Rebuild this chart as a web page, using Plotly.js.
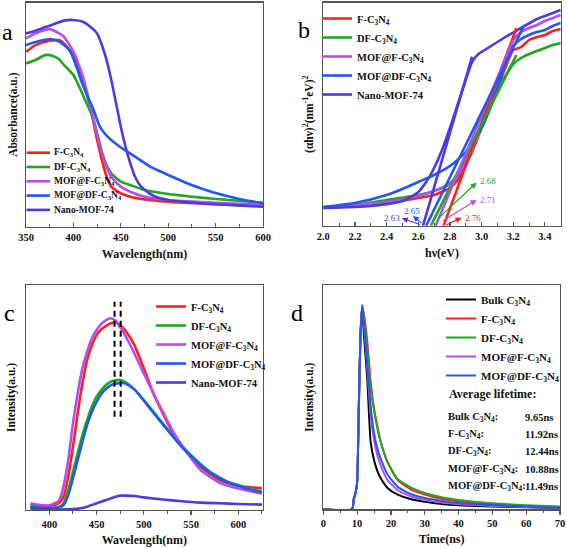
<!DOCTYPE html>
<html><head><meta charset="utf-8">
<script src="https://cdn.plot.ly/plotly-3.0.1.min.js"></script>
<style>html,body{margin:0;padding:0;background:#fff}#chart{width:567px;height:548px}</style>
</head><body><div id="chart"></div>
<script>
// ---------------- DATA ----------------
// Series names (a, b, c share the first five)
const names = ['F-C<sub>3</sub>N<sub>4</sub>', 'DF-C<sub>3</sub>N<sub>4</sub>', 'MOF@F-C<sub>3</sub>N<sub>4</sub>', 'MOF@DF-C<sub>3</sub>N<sub>4</sub>', 'Nano-MOF-74'];
const colors = ['#ff1f1f', '#1ea81e', '#b150ec', '#2358ee', '#4a3ce0'];

// Panel a: UV-vis absorbance (a.u.), wavelength nm
const absF_x = [350,360,370,380,385,390,400,410,415,420,425,430,435,440,450,460,475,500,550,600];
const absF_y = [0.781,0.811,0.826,0.833,0.833,0.818,0.766,0.655,0.580,0.491,0.387,0.298,0.223,0.179,0.149,0.134,0.122,0.112,0.101,0.092];
const absDF_x = [350,360,370,375,380,385,390,400,410,420,425,430,435,440,450,460,475,500,525,550,600];
const absDF_y = [0.729,0.744,0.766,0.766,0.759,0.747,0.722,0.677,0.588,0.491,0.417,0.335,0.275,0.238,0.201,0.186,0.164,0.146,0.134,0.124,0.107];
const absMF_x = [350,360,370,375,385,390,400,410,420,430,440,450,460,475,500,550,600];
const absMF_y = [0.841,0.863,0.878,0.882,0.863,0.848,0.781,0.670,0.506,0.327,0.223,0.179,0.156,0.134,0.119,0.107,0.097];
const absMDF_x = [350,365,375,385,395,400,405,410,415,420,428,438,449,465,481,500,516,535,551,575,600];
const absMDF_y = [0.811,0.830,0.838,0.826,0.792,0.751,0.692,0.632,0.580,0.536,0.446,0.394,0.357,0.313,0.268,0.231,0.201,0.171,0.149,0.124,0.104];
const absNano_x = [350,360,370,380,390,400,410,420,425,430,435,440,445,450,455,460,465,470,480,490,500,520,550,600];
const absNano_y = [0.863,0.875,0.890,0.905,0.920,0.923,0.915,0.885,0.863,0.811,0.744,0.655,0.551,0.446,0.357,0.283,0.223,0.186,0.149,0.129,0.119,0.109,0.100,0.089];

// Panel b: Tauc plot (αhν)^2 vs hν (eV)
const taucF_x = [2.0,2.2,2.4,2.6,2.7,2.8,2.85,2.9,2.95,3.0,3.05,3.1,3.15,3.2,3.25,3.3,3.35,3.4,3.45,3.5];
const taucF_y = [0.177,0.197,0.227,0.277,0.307,0.377,0.457,0.607,0.777,0.977,1.177,1.377,1.577,1.757,1.787,1.857,1.887,1.907,1.947,1.967];
const taucDF_x = [2.0,2.2,2.4,2.6,2.7,2.8,2.85,2.9,2.95,3.0,3.05,3.1,3.15,3.2,3.25,3.3,3.35,3.4,3.45,3.5];
const taucDF_y = [0.187,0.207,0.257,0.307,0.347,0.417,0.497,0.637,0.807,1.007,1.187,1.357,1.497,1.617,1.677,1.717,1.747,1.777,1.807,1.827];
const taucMF_x = [2.0,2.4,2.6,2.7,2.8,2.85,2.9,2.95,3.0,3.05,3.1,3.15,3.2,3.25,3.3,3.35,3.4,3.45,3.5];
const taucMF_y = [0.177,0.237,0.297,0.347,0.427,0.507,0.637,0.797,0.987,1.207,1.457,1.677,1.857,1.937,1.977,2.007,2.047,2.077,2.107];
const taucMDF_x = [2.0,2.2,2.4,2.5,2.6,2.7,2.8,2.9,3.0,3.05,3.1,3.15,3.2,3.25,3.3,3.35,3.4,3.45,3.5];
const taucMDF_y = [0.187,0.227,0.307,0.367,0.437,0.507,0.597,0.737,0.977,1.157,1.377,1.617,1.797,1.867,1.907,1.937,1.957,1.997,2.027];
const taucNano_x = [2.0,2.3,2.5,2.6,2.65,2.7,2.75,2.8,2.85,2.9,2.94,2.98,3.05,3.15,3.25,3.35,3.45,3.5];
const taucNano_y = [0.177,0.197,0.247,0.337,0.437,0.577,0.757,0.977,1.217,1.457,1.637,1.717,1.787,1.887,1.977,2.067,2.127,2.157];
// band gaps (eV) and upper ends of the tangent lines
const gaps = [2.76, 2.68, 2.71, 2.65, 2.63];
const gapLabels = ['2.76', '2.68', '2.71', '2.65', '2.63'];
const fitTopX = [3.22, 3.22, 3.20, 3.27, 2.94];
const fitTopY = [1.974, 1.707, 1.857, 2.007, 1.690];

// Panel c: PL spectra
const plF_x = [380,390,400,410,415,420,425,430,435,440,445,450,455,460,465,470,475,480,490,500,510,520,530,540,550,560,570,580,590,600,610,625];
const plF_y = [0.022,0.018,0.018,0.030,0.059,0.148,0.281,0.430,0.563,0.667,0.733,0.778,0.803,0.818,0.830,0.833,0.822,0.800,0.733,0.630,0.519,0.430,0.348,0.289,0.237,0.193,0.160,0.133,0.119,0.108,0.102,0.096];
const plDF_x = [380,390,400,410,415,420,425,430,435,440,445,450,455,460,465,470,475,480,490,500,510,520,530,540,550,560,570,580,590,600,610,625];
const plDF_y = [0.012,0.010,0.009,0.012,0.030,0.089,0.170,0.252,0.333,0.400,0.459,0.504,0.533,0.556,0.570,0.576,0.578,0.570,0.536,0.489,0.437,0.385,0.333,0.284,0.244,0.204,0.170,0.145,0.124,0.111,0.096,0.081];
const plMF_x = [380,390,400,410,415,420,425,430,435,440,445,450,455,460,465,470,475,480,490,500,510,520,530,540,550,560,570,580,590,600,610,625];
const plMF_y = [0.030,0.022,0.021,0.041,0.104,0.222,0.385,0.519,0.630,0.704,0.763,0.800,0.827,0.844,0.852,0.841,0.812,0.778,0.696,0.607,0.519,0.437,0.356,0.289,0.230,0.178,0.148,0.121,0.107,0.096,0.086,0.074];
const plMDF_x = [380,390,400,410,415,420,425,430,435,440,445,450,455,460,465,470,475,480,490,500,510,520,530,540,550,560,570,580,590,600,610,625];
const plMDF_y = [0.012,0.010,0.009,0.012,0.022,0.067,0.141,0.222,0.304,0.378,0.437,0.481,0.516,0.539,0.554,0.561,0.564,0.563,0.536,0.486,0.433,0.382,0.330,0.281,0.240,0.200,0.167,0.142,0.121,0.108,0.093,0.079];
const plNano_x = [380,400,420,430,440,450,460,470,475,480,490,500,520,540,560,580,600,625];
const plNano_y = [0.007,0.003,0.003,0.006,0.015,0.030,0.044,0.059,0.064,0.064,0.062,0.056,0.047,0.039,0.033,0.030,0.027,0.024];
const peakMarks = [469, 475.5];      // dashed guide lines (nm)
const peakMarkSpan = [0.415, 0.926]; // their vertical extent (a.u.)

// Panel d: time-resolved PL decay
const dNames = ['Bulk C<sub>3</sub>N<sub>4</sub>', 'F-C<sub>3</sub>N<sub>4</sub>', 'DF-C<sub>3</sub>N<sub>4</sub>', 'MOF@F-C<sub>3</sub>N<sub>4</sub>', 'MOF@DF-C<sub>3</sub>N<sub>4</sub>'];
const dColors = ['#000000', '#ff1f1f', '#1ea81e', '#b150ec', '#2358ee'];
const tNs = [0,8.5,9,9.5,10,10.5,11,11.5,12,13,14,15,16,17,19,22,26,30,35,40,50,60,70];
const decayBulk = [0,0,0.045,0.07,0.12,0.45,0.78,0.900,0.78,0.58,0.30,0.22,0.17,0.138,0.095,0.065,0.045,0.034,0.024,0.018,0.012,0.009,0.006];
const decayF    = [0,0,0.045,0.07,0.12,0.45,0.78,0.905,0.87,0.75,0.57,0.45,0.37,0.30,0.21,0.13,0.088,0.066,0.047,0.036,0.024,0.015,0.009];
const decayDF   = [0,0,0.045,0.07,0.12,0.45,0.78,0.905,0.86,0.72,0.54,0.44,0.36,0.30,0.21,0.135,0.097,0.073,0.054,0.042,0.027,0.018,0.012];
const decayMF   = [0,0,0.045,0.07,0.12,0.45,0.78,0.910,0.82,0.63,0.42,0.31,0.24,0.195,0.13,0.085,0.056,0.042,0.030,0.023,0.015,0.010,0.006];
const decayMDF  = [0,0,0.045,0.07,0.12,0.45,0.78,0.911,0.83,0.65,0.46,0.34,0.27,0.225,0.155,0.10,0.067,0.050,0.037,0.028,0.019,0.012,0.007];
const lifetimeNames = ['Bulk C<sub>3</sub>N<sub>4</sub>:', 'F-C<sub>3</sub>N<sub>4</sub>:', 'DF-C<sub>3</sub>N<sub>4</sub>:', 'MOF@F-C<sub>3</sub>N<sub>4</sub>:', 'MOF@DF-C<sub>3</sub>N<sub>4</sub>:'];
const lifetimes = ['9.65ns', '11.92ns', '12.44ns', '10.88ns', '11.49ns'];

// ---------------- STYLE / LAYOUT ----------------
const W = 567, H = 548;
const FONT = "'Liberation Serif', 'Times New Roman', serif";
const AX = '#555555';
const px2x = p => p / W, px2y = p => 1 - p / H;

const traces = [];
const absX = [absF_x, absDF_x, absMF_x, absMDF_x, absNano_x];
const absY = [absF_y, absDF_y, absMF_y, absMDF_y, absNano_y];
const taucX = [taucF_x, taucDF_x, taucMF_x, taucMDF_x, taucNano_x];
const taucY = [taucF_y, taucDF_y, taucMF_y, taucMDF_y, taucNano_y];
const plX = [plF_x, plDF_x, plMF_x, plMDF_x, plNano_x];
const plY = [plF_y, plDF_y, plMF_y, plMDF_y, plNano_y];

for (let i = 0; i < 5; i++) {
  traces.push({x: absX[i], y: absY[i], xaxis: 'x', yaxis: 'y', mode: 'lines', name: names[i],
    line: {color: colors[i], width: 2.6, shape: 'spline', smoothing: 0.6}, showlegend: false});
}
for (let i = 0; i < 5; i++) {
  traces.push({x: taucX[i], y: taucY[i], xaxis: 'x2', yaxis: 'y2', mode: 'lines', name: names[i],
    line: {color: colors[i], width: 2.6, shape: 'spline', smoothing: 0.6}, legend: 'legend'});
}
for (let i = 0; i < 5; i++) {
  traces.push({x: [gaps[i], fitTopX[i]], y: [0, fitTopY[i]], xaxis: 'x2', yaxis: 'y2', mode: 'lines',
    line: {color: colors[i], width: 2.6}, showlegend: false, hoverinfo: 'skip'});
}
for (let i = 0; i < 5; i++) {
  traces.push({x: plX[i], y: plY[i], xaxis: 'x3', yaxis: 'y3', mode: 'lines', name: names[i],
    line: {color: colors[i], width: 2.6, shape: 'spline', smoothing: 0.6}, legend: 'legend2'});
}
peakMarks.forEach(p => traces.push({x: [p, p], y: peakMarkSpan, xaxis: 'x3', yaxis: 'y3', mode: 'lines',
  line: {color: '#000', width: 2, dash: '6px,4px'}, showlegend: false, hoverinfo: 'skip'}));
const decays = [decayBulk, decayF, decayDF, decayMF, decayMDF];
for (let i = 0; i < 5; i++) {
  traces.push({x: tNs, y: decays[i], xaxis: 'x4', yaxis: 'y4', mode: 'lines', name: dNames[i],
    line: {color: dColors[i], width: 2, shape: 'spline', smoothing: 0.5}, legend: 'legend3'});
}

const tickFont = {family: FONT, size: 10.5, weight: 'bold', color: '#111'};
const titleFont = {family: FONT, size: 12, weight: 'bold', color: '#111'};
function xAxis(anchor, dom, range, dtick, minorDtick, ticks, title, standoff, fmt) {
  return {anchor: anchor, domain: dom, range: range, dtick: dtick, tick0: 0, ticks: ticks, ticklen: 4, tickwidth: 1.2, tickcolor: AX,
    minor: {dtick: minorDtick, tick0: 0, ticks: ticks, ticklen: 2.5, tickwidth: 1, tickcolor: AX},
    showline: true, linecolor: AX, linewidth: 1.4, mirror: true, showgrid: false, zeroline: false,
    tickfont: tickFont, tickformat: fmt || '', automargin: false,
    title: {text: title, font: titleFont, standoff: standoff}};
}
function yAxis(anchor, dom, range, title, standoff) {
  return {anchor: anchor, domain: dom, range: range, showticklabels: false, ticks: '', showline: true, linecolor: AX,
    linewidth: 1.4, mirror: true, showgrid: false, zeroline: false, automargin: false,
    title: {text: title, font: {family: FONT, size: 11.5, weight: 'bold', color: '#111'}, standoff: standoff}};
}

const annotations = [];
// panel letters
[['a', 7, 32], ['b', 304, 30], ['c', 9, 313], ['d', 297, 313]].forEach(([t, x, y]) => annotations.push({
  text: t, xref: 'paper', yref: 'paper', x: px2x(x), y: px2y(y), xanchor: 'center', yanchor: 'middle', showarrow: false,
  font: {family: FONT, size: 24, color: '#000'}}));

// panel a legend (tight spacing)
const shapes = [];
for (let i = 0; i < 5; i++) {
  const yy = 152.7 + i * 14.3;
  annotations.push({text: names[i], xref: 'paper', yref: 'paper', x: px2x(51.5), y: px2y(yy),
    xanchor: 'left', yanchor: 'middle', showarrow: false,
    font: {family: FONT, size: 9.5, weight: 'bold', color: '#111'}});
  shapes.push({type: 'line', xref: 'paper', yref: 'paper', x0: px2x(26.5), x1: px2x(50), y0: px2y(yy), y1: px2y(yy),
    line: {color: colors[i], width: 2.6}});
}

// panel b gap arrows + labels
const arrowHead = [[2.873, 0.08], [2.968, 0.43], [2.968, 0.257], [2.566, 0.097], [2.496, 0.074]];
const arrowTail = [[2.768, 0.0], [2.715, 0.057], [2.747, 0.04], [2.629, 0.017], [2.621, 0.007]];
const labelPos = [[2.885, 0.074, 'left'], [2.98, 0.447, 'left'], [2.98, 0.257, 'left'], [2.558, 0.150, 'center'], [2.495, 0.074, 'right']];
for (let i = 0; i < 5; i++) {
  annotations.push({text: '', x: arrowHead[i][0], y: arrowHead[i][1], ax: arrowTail[i][0], ay: arrowTail[i][1],
    xref: 'x2', yref: 'y2', axref: 'x2', ayref: 'y2', showarrow: true, arrowhead: 2, arrowsize: 1, arrowwidth: 1.2,
    arrowcolor: colors[i], standoff: 0, startstandoff: 0});
  annotations.push({text: gapLabels[i], x: labelPos[i][0], y: labelPos[i][1], xref: 'x2', yref: 'y2',
    xanchor: labelPos[i][2], yanchor: 'middle', showarrow: false,
    font: {family: FONT, size: 9, color: colors[i]}});
}

// panel d lifetime text
annotations.push({text: 'Average lifetime:', x: 36.5, y: 0.514, xref: 'x4', yref: 'y4', xanchor: 'left', yanchor: 'middle',
  showarrow: false, font: {family: FONT, size: 12, weight: 'bold', color: '#111'}});
const rowY = [0.408, 0.334, 0.257, 0.179, 0.100];
for (let i = 0; i < 5; i++) {
  annotations.push({text: lifetimeNames[i], x: 36.2, y: rowY[i], xref: 'x4', yref: 'y4', xanchor: 'left', yanchor: 'middle',
    showarrow: false, font: {family: FONT, size: 10.5, weight: 'bold', color: '#111'}});
  annotations.push({text: lifetimes[i], x: 59.0, y: rowY[i], xref: 'x4', yref: 'y4', xanchor: 'left', yanchor: 'middle',
    showarrow: false, font: {family: FONT, size: 10.5, weight: 'bold', color: '#111'}});
}

const legendCommon = {xanchor: 'left', yanchor: 'top', bgcolor: 'rgba(0,0,0,0)', borderwidth: 0, itemwidth: 30,
  tracegroupgap: 0, itemclick: false};

const layout = {
  width: W, height: H, margin: {l: 0, r: 0, t: 0, b: 0}, paper_bgcolor: '#fff', plot_bgcolor: '#fff',
  font: {family: FONT},
  xaxis: xAxis('y', [px2x(26), px2x(263)], [350, 600], 50, 25, 'inside', 'Wavelength(nm)', 8),
  yaxis: yAxis('x', [px2y(226.7), px2y(2.7)], [0, 1.0], 'Absorbance(a.u.)', 4),
  xaxis2: xAxis('y2', [px2x(323.3), px2x(560.7)], [2.0, 3.5], 0.2, 0.1, 'inside', 'hν(eV)', 8, '.1f'),
  yaxis2: yAxis('x2', [px2y(225.7), px2y(2.7)], [0, 2.23], '(αhν)<sup>2</sup>(nm<sup>-1</sup>eV)<sup>2</sup>', 6),
  xaxis3: xAxis('y3', [px2x(26), px2x(262.7)], [375.3, 625.8], 50, 25, 'outside', 'Wavelength(nm)', 6),
  yaxis3: yAxis('x3', [px2y(510), px2y(285)], [0, 1.0], 'Intensity(a.u.)', 6),
  xaxis4: xAxis('y4', [px2x(323.3), px2x(560)], [0, 70], 10, 5, 'outside', 'Time(ns)', 6),
  yaxis4: yAxis('x4', [px2y(509.3), px2y(285)], [0, 1.0], 'Intensity(a.u.)', 6),
  legend: Object.assign({x: px2x(317), y: px2y(4), font: {family: FONT, size: 10.5, weight: 'bold', color: '#111'}}, legendCommon),
  legend2: Object.assign({x: px2x(151), y: px2y(292), font: {family: FONT, size: 10.5, weight: 'bold', color: '#111'}}, legendCommon),
  legend3: Object.assign({x: px2x(441), y: px2y(285), font: {family: FONT, size: 11, weight: 'bold', color: '#111'}}, legendCommon),
  annotations: annotations, shapes: shapes, showlegend: true
};

Plotly.newPlot('chart', traces, layout, {staticPlot: true, displayModeBar: false});
</script></body></html>
